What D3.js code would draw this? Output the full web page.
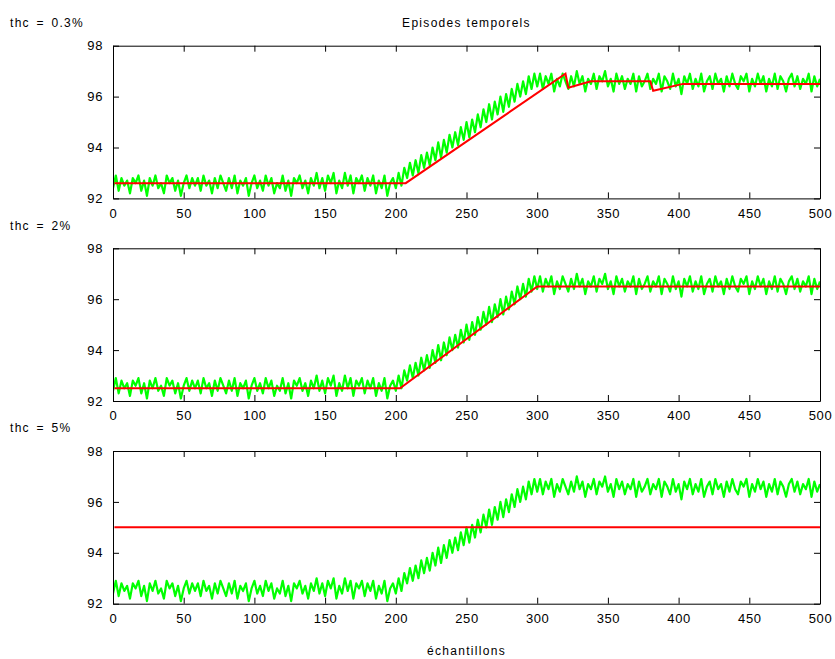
<!DOCTYPE html>
<html>
<head>
<meta charset="utf-8">
<script src="https://cdn.jsdelivr.net/npm/d3@7"></script>
<style>
  html, body { margin: 0; padding: 0; background: #fff; }
  svg text { font-family: "Liberation Sans", Arial, Helvetica, sans-serif; font-size: 12px; fill: #000; letter-spacing: 1.3px; }
  svg .tick text { font-size: 13px; letter-spacing: 0.6px; }
  svg text.panel { word-spacing: 2px; }
</style>
</head>
<body>
<svg id="chart" width="835" height="659"></svg>
<script>
// ---- data ----
const titleText = "Episodes temporels";
const xLabelText = "échantillons";
const panelLabels = ["thc = 0.3%", "thc = 2%", "thc = 5%"];
const xTicks = [0, 50, 100, 150, 200, 250, 300, 350, 400, 450, 500];
const yTicks = [92, 94, 96, 98];

// measured signal, one value every 2 samples (0..500)
const signalStep = 2;
const signal = [
  92.4, 92.9, 92.3, 92.8, 92.5, 92.7, 92.2, 92.8, 92.6, 92.9,
  92.3, 92.7, 92.1, 92.8, 92.5, 92.9, 92.4, 92.6, 92.2, 92.9,
  92.6, 92.8, 92.3, 92.7, 92.1, 92.6, 92.9, 92.4, 92.8, 92.5,
  92.8, 92.3, 92.9, 92.5, 92.7, 92.2, 92.8, 92.4, 92.9, 92.6,
  92.3, 92.8, 92.4, 92.9, 92.2, 92.7, 92.5, 92.8, 92.1, 92.6,
  92.9, 92.4, 92.7, 92.3, 92.9, 92.5, 92.8, 92.2, 92.6, 92.4,
  92.9, 92.3, 92.7, 92.1, 92.8, 92.6, 92.9, 92.4, 92.7, 92.2,
  92.8, 92.5, 93.0, 92.4, 92.8, 92.3, 92.9, 92.6, 93.0, 92.2,
  92.7, 92.4, 93.0, 92.5, 92.9, 92.2, 92.8, 92.6, 92.9, 92.3,
  92.8, 92.5, 92.9, 92.2, 92.7, 92.4, 92.9, 92.1, 92.6, 92.8,
  92.4, 93.0, 92.5, 93.2, 92.8, 93.4, 92.9, 93.5, 93.0, 93.7,
  93.2, 93.8, 93.3, 94.0, 93.5, 94.2, 93.6, 94.3, 93.8, 94.5,
  94.0, 94.6, 94.1, 94.8, 94.3, 95.0, 94.4, 95.1, 94.6, 95.3,
  94.8, 95.5, 95.0, 95.7, 95.1, 95.8, 95.3, 96.0, 95.4, 96.1,
  95.6, 96.3, 95.8, 96.5, 96.0, 96.6, 96.1, 96.8, 96.3, 96.9,
  96.4, 96.9, 96.3, 96.8, 96.5, 96.9, 96.2, 96.7, 96.4, 96.9,
  96.6, 96.3, 96.8, 96.4, 97.0, 96.5, 96.8, 96.2, 96.7, 96.5,
  96.9, 96.3, 96.8, 96.6, 97.0, 96.4, 96.7, 96.2, 96.9, 96.5,
  96.8, 96.3, 96.7, 96.5, 96.9, 96.2, 96.8, 96.4, 96.6, 96.9,
  96.3, 96.7, 96.5, 96.9, 96.2, 96.8, 96.6, 96.3, 96.9, 96.4,
  96.7, 96.1, 96.8, 96.5, 96.9, 96.3, 96.7, 96.4, 96.9, 96.2,
  96.6, 96.8, 96.3, 96.9, 96.5, 96.7, 96.2, 96.8, 96.4, 96.9,
  96.5, 96.3, 96.8, 96.6, 96.9, 96.2, 96.7, 96.4, 96.9, 96.5,
  96.8, 96.2, 96.7, 96.4, 96.9, 96.3, 96.8, 96.6, 96.2, 96.7,
  96.9, 96.4, 96.8, 96.3, 96.7, 96.5, 96.9, 96.2, 96.8, 96.4,
  96.7
];

// piecewise-linear episodes (breakpoints)
const fit1X = [1, 207, 320, 322, 338, 380, 382, 403, 500];
const fit1Y = [92.6, 92.6, 96.9, 96.35, 96.6, 96.6, 96.23, 96.5, 96.5];
const fit2X = [1, 203, 300, 500];
const fit2Y = [92.5, 92.5, 96.5, 96.5];
const fit3X = [1, 500];
const fit3Y = [95, 95];

// ---- layout ----
const svg = d3.select("#chart");
const left = 113, right = 820;
const panelTops = [45.7, 248.3, 451];
const panelH = 152.7;
const tickLen = 6;

const x = d3.scaleLinear().domain([0, 500]).range([left, right]);
const fits = [[fit1X, fit1Y], [fit2X, fit2Y], [fit3X, fit3Y]];
const sig = signal.map((v, i) => [i * signalStep, v]);

panelTops.forEach((top, p) => {
  const y = d3.scaleLinear().domain([92, 98]).range([top + panelH, top]);
  const g = svg.append("g");
  const clipId = "clip" + p;
  svg.append("clipPath").attr("id", clipId)
    .append("rect").attr("x", left).attr("y", top).attr("width", right - left).attr("height", panelH);

  const line = d3.line().x(d => x(d[0])).y(d => y(d[1]));
  g.append("path").datum(sig)
    .attr("clip-path", `url(#${clipId})`)
    .attr("fill", "none").attr("stroke", "#00ff00").attr("stroke-width", 2.2)
    .attr("stroke-linejoin", "round")
    .attr("d", line);
  const [fx, fy] = fits[p];
  g.append("path").datum(fx.map((v, i) => [v, fy[i]]))
    .attr("clip-path", `url(#${clipId})`)
    .attr("fill", "none").attr("stroke", "#ff0000").attr("stroke-width", 2)
    .attr("d", line);

  // axes (MATLAB box style, inward ticks)
  const bottomAxis = d3.axisBottom(x).tickValues(xTicks).tickSizeInner(-tickLen).tickSizeOuter(0).tickPadding(10).tickFormat(d3.format("d"));
  const topAxis = d3.axisTop(x).tickValues(xTicks).tickSizeInner(-tickLen).tickSizeOuter(0).tickFormat("");
  const leftAxis = d3.axisLeft(y).tickValues(yTicks).tickSizeInner(-tickLen).tickSizeOuter(0).tickPadding(10).tickFormat(d3.format("d"));
  const rightAxis = d3.axisRight(y).tickValues(yTicks).tickSizeInner(-tickLen).tickSizeOuter(0).tickFormat("");

  const styleAxis = sel => {
    sel.selectAll("path.domain").attr("stroke", "#000").attr("stroke-width", 1);
    sel.selectAll(".tick line").attr("stroke", "#000").attr("stroke-width", 1);
    sel.selectAll(".tick text").attr("font-size", null).attr("font-family", null).style("fill", "#000");
  };
  g.append("g").attr("transform", `translate(0,${top + panelH})`).call(bottomAxis).call(styleAxis);
  g.append("g").attr("transform", `translate(0,${top})`).call(topAxis).call(styleAxis);
  g.append("g").attr("transform", `translate(${left},0)`).call(leftAxis).call(styleAxis);
  g.append("g").attr("transform", `translate(${right},0)`).call(rightAxis).call(styleAxis);
  svg.selectAll(".tick text").attr("font-size", null).attr("font-family", null);

  svg.append("text").attr("class", "panel").attr("x", 10).attr("y", top - 18.7).text(panelLabels[p]);
});

svg.append("text").attr("x", (left + right) / 2).attr("y", 27).attr("text-anchor", "middle").text(titleText);
svg.append("text").attr("x", (left + right) / 2).attr("y", 655).attr("text-anchor", "middle").text(xLabelText);
</script>
</body>
</html>
